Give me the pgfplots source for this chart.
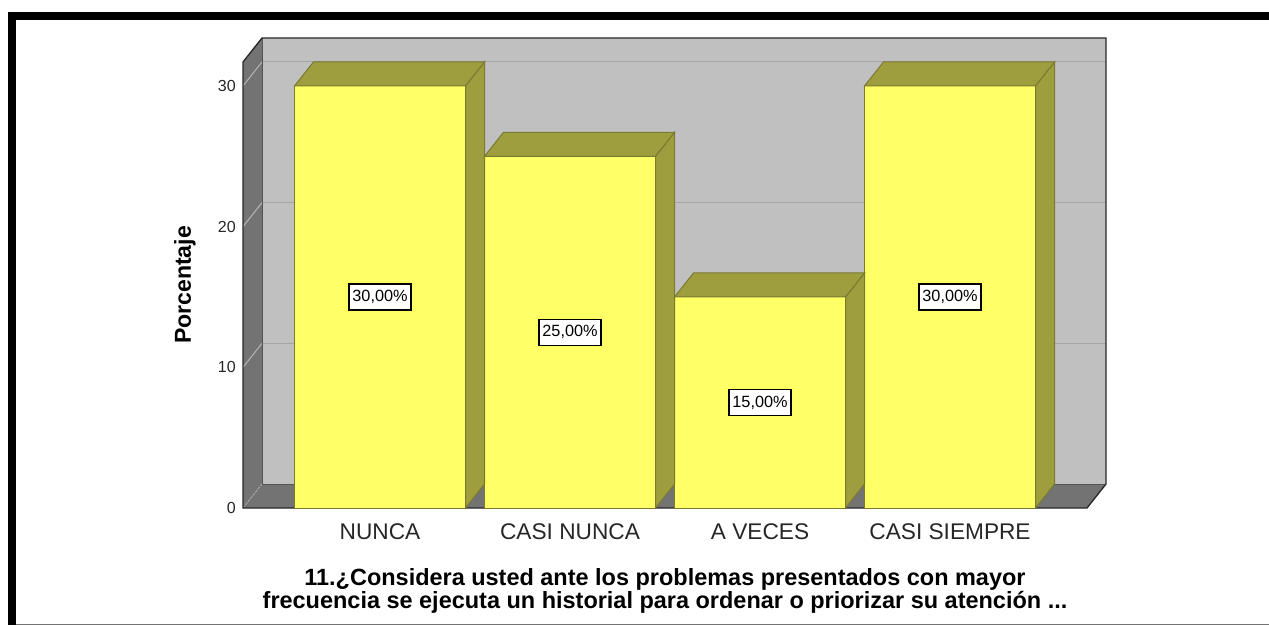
\documentclass[border=0pt]{standalone}
\usepackage{pgfplots}
\pgfplotsset{compat=1.18}
\usepackage{pgfplotstable}
\usepackage{fontspec}
\setmainfont{Liberation Sans}

\definecolor{barFront}{RGB}{255,255,102}
\definecolor{barSide}{RGB}{158,158,62}
\definecolor{barEdge}{RGB}{122,122,48}
\definecolor{wallBack}{RGB}{192,192,192}
\definecolor{wallSide}{RGB}{115,115,115}
\definecolor{gridC}{RGB}{165,165,165}
\definecolor{edgeC}{RGB}{40,40,40}
\definecolor{innerC}{RGB}{85,85,85}

\pgfplotstableread{
idx value
0 30
1 25
2 15
3 30
}\datatable

% geometry of the 3D box, in axis units
\def\xL{-0.721}   % front plane, left
\def\xR{3.721}    % front plane, right
\def\dX{0.1}      % depth offset in x
\def\dY{1.706}    % depth offset in y
\def\yT{31.7}     % top of the front plane
\def\hw{0.45}     % half bar width
\pgfmathsetmacro\xLb{\xL+\dX}
\pgfmathsetmacro\xRb{\xR+\dX}
\pgfmathsetmacro\yTb{\yT+\dY}

% closed filled polygon in axis coordinates
\newcommand\poly[2]{\edef\temp{\noexpand\addplot[#1] coordinates {#2} --cycle;}\temp}
\newcommand\pline[2]{\edef\temp{\noexpand\addplot[#1] coordinates {#2};}\temp}

\begin{document}
\begin{tikzpicture}
\useasboundingbox (0pt,0pt) rectangle (951.75pt,468.75pt);
% frame
\fill[black] (6pt,453.75pt) rectangle (951.75pt,459.75pt);
\fill[black] (6pt,0pt) rectangle (12pt,459.75pt);
\draw[gray!90!black, line width=0.75pt] (12pt,0.4pt) -- (951.75pt,0.4pt);

\begin{axis}[
  at={(182.25pt,87.75pt)}, anchor=south west,
  scale only axis, width=647.25pt, height=352.5pt,
  xmin=-0.721, xmax=3.821, ymin=0, ymax=33.406,
  clip=false,
  axis line style={draw=none}, tick style={draw=none},
  ytick={0,10,20,30},
  xtick={0,1,2,3},
  xticklabels={NUNCA, CASI NUNCA, A VECES, CASI SIEMPRE},
  yticklabel style={font=\fontsize{12}{14}\selectfont, anchor=east, inner sep=0pt, xshift=-5.25pt,
    /pgf/number format/assume math mode=true, text=black!85},
  xticklabel style={font=\fontsize{17}{19}\selectfont, anchor=center, inner sep=0pt, yshift=-18pt, text=black!85},
  ylabel={Porcentaje},
  ylabel style={font=\bfseries\fontsize{17.3}{19}\selectfont, at={(axis cs:-0.721,15.85)}, anchor=center, yshift=43.5pt},
  xlabel={11.¿Considera usted ante los problemas presentados con mayor\\frecuencia se ejecuta un historial para ordenar o priorizar su atención ...},
  xlabel style={font=\bfseries\fontsize{17.6}{16.5}\selectfont, align=center, at={(axis cs:1.5,0)}, anchor=center, yshift=-62.25pt},
]
% walls and floor
\poly{fill=wallBack, draw=none}{(\xLb,\dY) (\xRb,\dY) (\xRb,\yTb) (\xLb,\yTb)}
\poly{fill=wallSide, draw=none}{(\xL,0) (\xLb,\dY) (\xLb,\yTb) (\xL,\yT)}
\poly{fill=wallSide, draw=none}{(\xL,0) (\xR,0) (\xRb,\dY) (\xLb,\dY)}
% grid lines on the back and side walls
\pgfplotsinvokeforeach{10,20,30}{
  \pgfmathsetmacro\gy{#1+\dY}
  \pline{draw=gridC, line width=0.75pt}{(\xLb,\gy) (\xRb,\gy)}
  \pline{draw=gridC!80!white, line width=0.75pt}{(\xL,#1) (\xLb,\gy)}
}
\pline{draw=gridC, line width=0.75pt, dash pattern=on 2pt off 1pt}{(\xL,0) (\xLb,\dY)}
% inner edges of the box
\pline{draw=innerC, line width=0.75pt}{(\xLb,\yTb) (\xLb,\dY) (\xRb,\dY)}
% outer edges of the box
\pline{draw=edgeC, line width=1pt}{(\xL,\yT) (\xL,0) (\xR,0) (\xRb,\dY) (\xRb,\yTb) (\xLb,\yTb) (\xL,\yT)}

% bars: front faces
\addplot[ybar, bar width=0.9, bar shift=0pt, fill=barFront, draw=barEdge, line width=0.75pt]
  table[x=idx, y=value] {\datatable};
% bars: side and top faces
\pgfplotsinvokeforeach{0,...,3}{
  \pgfplotstablegetelem{#1}{value}\of\datatable
  \pgfmathsetmacro\vB{\pgfplotsretval}
  \pgfmathsetmacro\vT{\pgfplotsretval+\dY}
  \pgfmathsetmacro\xa{#1-\hw}
  \pgfmathsetmacro\xb{#1+\hw}
  \pgfmathsetmacro\xc{#1+\hw+\dX}
  \pgfmathsetmacro\xd{#1-\hw+\dX}
  \poly{fill=barSide, draw=barEdge, line width=0.75pt}{(\xb,0) (\xc,\dY) (\xc,\vT) (\xb,\vB)}
  \poly{fill=barSide, draw=barEdge, line width=0.75pt}{(\xa,\vB) (\xb,\vB) (\xc,\vT) (\xd,\vT)}
}
% value labels at half height
\addplot[draw=none, mark=none, point meta=explicit,
  nodes near coords={\pgfmathprintnumber[fixed, fixed zerofill, precision=2, use comma, assume math mode=true]{\pgfplotspointmeta}\%},
  every node near coord/.append style={anchor=center, draw=black, line width=0.9pt, fill=white,
    inner sep=0pt, minimum width=46.5pt, minimum height=19.5pt, font=\fontsize{12.2}{14}\selectfont, text=black}]
  table[x=idx, y expr=\thisrow{value}/2, meta=value] {\datatable};
\end{axis}
\end{tikzpicture}
\end{document}
